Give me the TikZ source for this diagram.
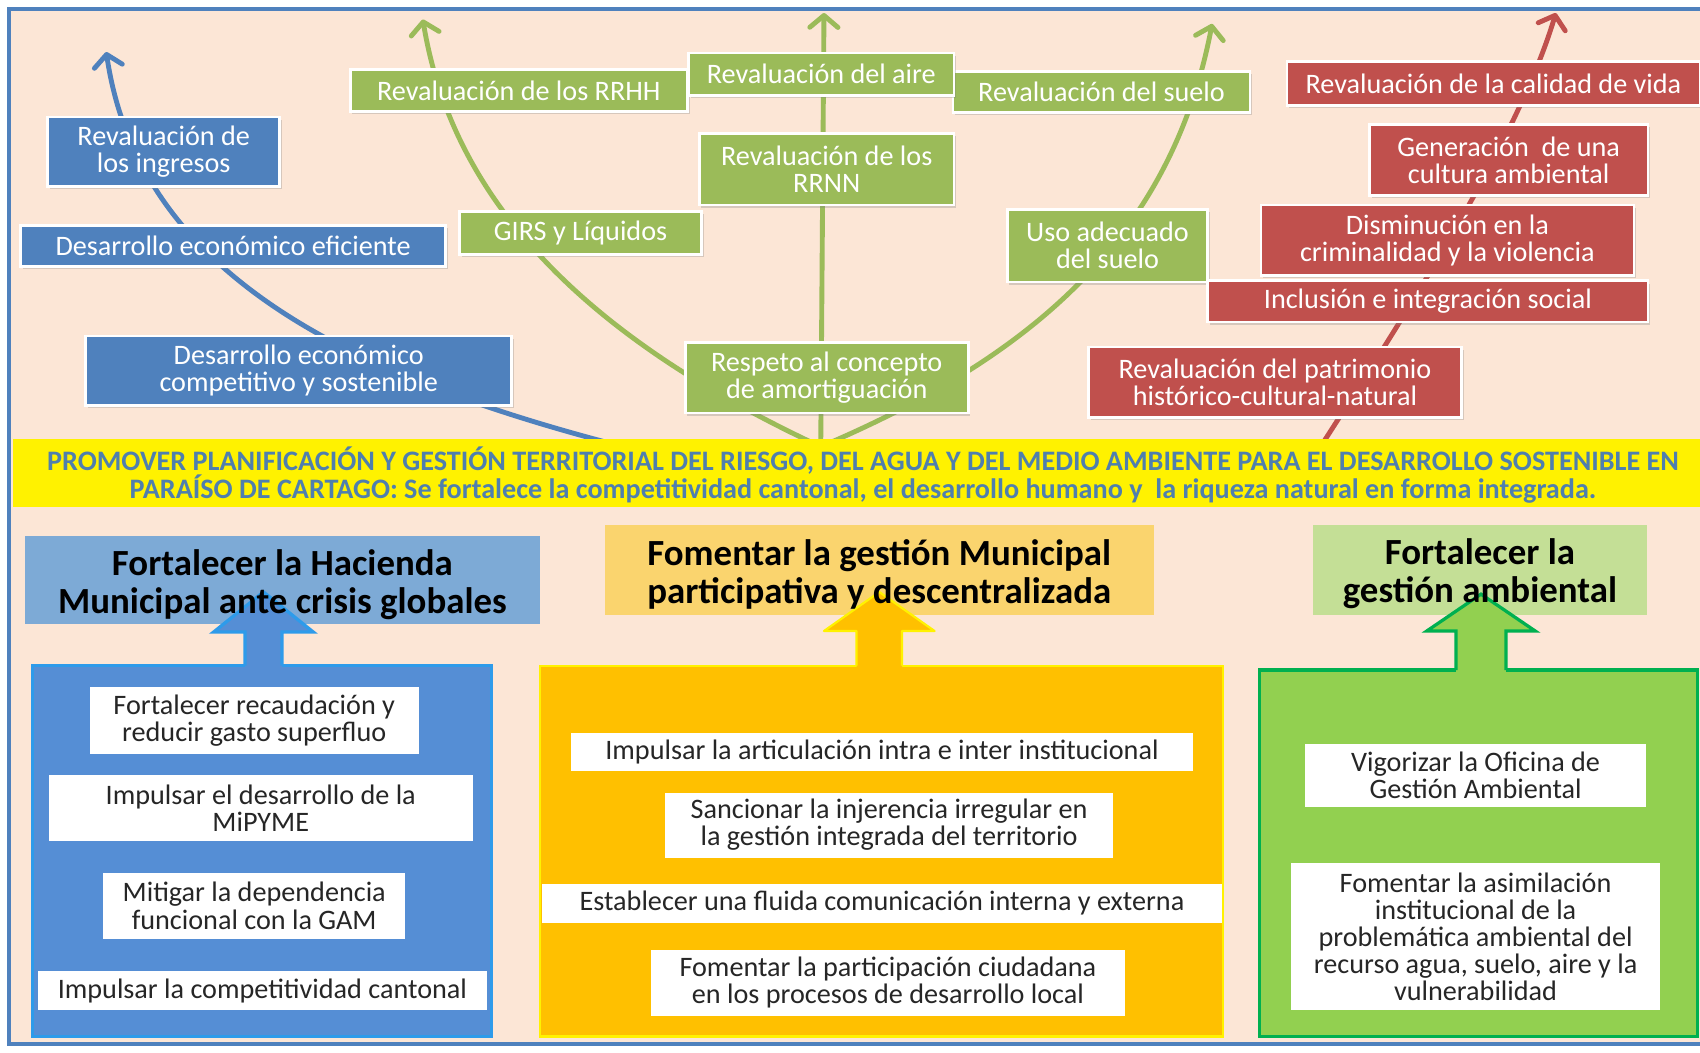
\documentclass[tikz,border=0pt]{standalone}
\usepackage{fontspec}
\setmainfont{Carlito}
\usetikzlibrary{arrows.meta,shadows,calc}

\definecolor{peach}{HTML}{FCE6D6}
\definecolor{frameBlue}{HTML}{4F81BD}
\definecolor{ppBlue}{HTML}{4F81BD}
\definecolor{ppGreen}{HTML}{9BBB59}
\definecolor{ppRed}{HTML}{C0504D}
\definecolor{bandText}{HTML}{4F7FAE}
\definecolor{hdrBlue}{HTML}{7DAAD6}
\definecolor{hdrOrange}{HTML}{FAD46E}
\definecolor{hdrGreen}{HTML}{C4DF96}
\definecolor{panBlue}{HTML}{558ED5}
\definecolor{panBlueEdge}{HTML}{2E9BEA}
\definecolor{panOrange}{HTML}{FFC000}
\definecolor{panGreen}{HTML}{92D050}
\definecolor{panGreenEdge}{HTML}{00B050}

% box placed by its corners: name, style, x1, y1, x2, y2, text
\newcommand\placebox[7]{%
  \node[#2, minimum width={#5-#3}, minimum height={#6-#4}] (#1)
    at ({(#3+#5)/2},{(#4+#6)/2}) {#7};}

\begin{document}
\begin{tikzpicture}[x=1pt,y=-1pt,
  txt/.style={font=\fontsize{26}{25}\selectfont, align=center, inner sep=0pt},
  topbox/.style={txt, draw=white, line width=2.5pt, text=white,
    drop shadow={shadow xshift=2pt, shadow yshift=-2.5pt, opacity=0.3}},
  bluebox/.style={topbox, fill=ppBlue},
  greenbox/.style={topbox, fill=ppGreen},
  redbox/.style={topbox, fill=ppRed},
  whitebox/.style={txt, fill=white, text=black!85},
  hdrfill/.style={inner sep=0pt},
  hdrtext/.style={font=\bfseries\fontsize{34}{35}\selectfont, align=center,
    text=black, inner sep=0pt},
  growth/.style={line width=4.5pt, line cap=round,
    -{Straight Barb[length=11pt,width=26pt,line width=4.5pt,round]}}]

\useasboundingbox (0,0) rectangle (1568,971);

% page and frame
\fill[white] (0,0) rectangle (1568,971);
\filldraw[fill=peach, draw=frameBlue, line width=4pt] (8,8) rectangle (1600,963);

% growth arrows rising from the central band
\coordinate (bS) at (575,412);
\coordinate (bE) at (98,48);
\coordinate (gS) at (757,412);
\coordinate (gL) at (390,18);
\coordinate (gM) at (760,12);
\coordinate (gR) at (1118,22);
\coordinate (rS) at (1218,412);
\coordinate (rE) at (1435,12);

\draw[growth, ppBlue] (bS) .. controls (315,345) and (128,250) .. (bE);
\draw[growth, ppGreen] (gS) .. controls (560,320) and (420,200) .. (gL);
\draw[growth, ppGreen] (gS) -- (gM);
\draw[growth, ppGreen] (gS) .. controls (950,330) and (1080,220) .. (gR);
\draw[growth, ppRed] (rS) .. controls (1290,300) and (1400,130) .. (rE);

% economic axis
\placebox{ingresos}{bluebox}{44}{108}{258}{172}{Revaluación de\\los ingresos}
\placebox{eficiente}{bluebox}{19}{208}{411}{246}{Desarrollo económico eficiente}
\placebox{competitivo}{bluebox}{79}{310}{472}{374}{Desarrollo económico\\competitivo y sostenible}

% environmental axis
\placebox{rrhh}{greenbox}{323}{64}{634}{103}{Revaluación de los RRHH}
\placebox{suelo}{greenbox}{879}{66}{1153}{104}{Revaluación del suelo}
\placebox{aire}{greenbox}{635}{49}{880}{88}{Revaluación del aire}
\placebox{rrnn}{greenbox}{645}{123}{880}{189}{Revaluación de los\\RRNN}
\placebox{girs}{greenbox}{424}{195}{647}{235}{GIRS y Líquidos}
\placebox{uso}{greenbox}{929}{193}{1114}{260}{Uso adecuado\\del suelo}
\placebox{respeto}{greenbox}{632}{316}{893}{381}{Respeto al concepto\\de amortiguación}

% social axis
\placebox{calidad}{redbox}{1187}{57}{1568}{97}{Revaluación de la calidad de vida}
\placebox{cultura}{redbox}{1263}{115}{1520}{180}{Generación\ \ de una\\cultura ambiental}
\placebox{inclusion}{redbox}{1114}{259}{1520}{297}{Inclusión e integración social}
\placebox{criminal}{redbox}{1163}{189}{1507}{254}{Disminución en la\\criminalidad y la violencia}
\placebox{patrimonio}{redbox}{1004}{320}{1348}{385}{Revaluación del patrimonio\\histórico-cultural-natural}

% central band
\fill[yellow] (12,405) rectangle (1570,468);
\node[font=\bfseries\fontsize{26}{26}\selectfont, text=bandText, align=center, inner sep=0pt]
  (bandtxt) at (796,438)
  {PROMOVER PLANIFICACIÓN Y GESTIÓN TERRITORIAL DEL RIESGO, DEL AGUA Y DEL MEDIO AMBIENTE PARA EL DESARROLLO SOSTENIBLE EN\\
   PARAÍSO DE CARTAGO: Se fortalece la competitividad cantonal, el desarrollo humano y\ \ la riqueza natural en forma integrada.};

% lower panels
\filldraw[fill=panBlue, draw=panBlueEdge, line width=3pt] (30,614) rectangle (453,956);
\filldraw[fill=panOrange, draw=yellow, line width=2pt] (498,614) rectangle (1128,956);
\filldraw[fill=panGreen, draw=panGreenEdge, line width=3pt] (1162,618) rectangle (1566,956);

\placebox{recaudacion}{whitebox}{83}{634}{386}{695}{Fortalecer recaudación y\\reducir gasto superfluo}
\placebox{mipyme}{whitebox}{45}{715}{436}{776}{Impulsar el desarrollo de la\\MiPYME}
\placebox{gam}{whitebox}{95}{805}{374}{866}{Mitigar la dependencia\\funcional con la GAM}
\placebox{cantonal}{whitebox}{35}{896}{449}{932}{Impulsar la competitividad cantonal}

\placebox{articulacion}{whitebox}{527}{676}{1100}{711}{Impulsar la articulación intra e inter institucional}
\placebox{injerencia}{whitebox}{613}{731}{1027}{791}{Sancionar la injerencia irregular en\\la gestión integrada del territorio}
\placebox{comunicacion}{whitebox}{500}{815}{1127}{851}{Establecer una fluida comunicación interna y externa}
\placebox{participacion}{whitebox}{600}{876}{1038}{937}{Fomentar la participación ciudadana\\en los procesos de desarrollo local}

\placebox{oficina}{whitebox}{1204}{686}{1518}{744}{Vigorizar la Oficina de\\Gestión Ambiental}
\placebox{asimilacion}{whitebox}{1191}{796}{1531}{932}{Fomentar la asimilación\\institucional de la\\problemática ambiental del\\recurso agua, suelo, aire y la\\vulnerabilidad}

% header boxes (fill first, so the block arrows can overlap them)
\placebox{hacienda}{hdrfill, fill=hdrBlue}{23}{494}{498}{576}{}
\placebox{gestion}{hdrfill, fill=hdrOrange}{558}{484}{1064}{567}{}
\placebox{ambiental}{hdrfill, fill=hdrGreen}{1211}{484}{1519}{567}{}

% block arrows from panels to headers
\fill[panBlue] (226,617) -- (226,583) -- (197,583) -- (243,546) -- (289,583) -- (260,583) -- (260,617) -- cycle;
\draw[panBlueEdge, line width=3pt] (226,614) -- (226,583) -- (197,583) -- (243,546) -- (289,583) -- (260,583) -- (260,614);

\fill[panOrange] (790,616) -- (790,582) -- (760,582) -- (811,546) -- (862,582) -- (832,582) -- (832,616) -- cycle;
\draw[yellow, line width=2pt, line join=round] (790,614) -- (790,582) -- (760,582) -- (811,546) -- (862,582) -- (832,582) -- (832,614);

\fill[panGreen] (1343,621) -- (1343,582) -- (1316,582) -- (1366,548) -- (1416,582) -- (1389,582) -- (1389,621) -- cycle;
\draw[panGreenEdge, line width=3pt] (1343,618) -- (1343,582) -- (1316,582) -- (1366,548) -- (1416,582) -- (1389,582) -- (1389,618);

% header texts
\node[hdrtext] at ($(hacienda)+(0,4)$) {Fortalecer la Hacienda\\Municipal ante crisis globales};
\node[hdrtext] at ($(gestion)+(0,4)$) {Fomentar la gestión Municipal\\participativa y descentralizada};
\node[hdrtext] at ($(ambiental)+(0,4)$) {Fortalecer la\\gestión ambiental};

\end{tikzpicture}
\end{document}
